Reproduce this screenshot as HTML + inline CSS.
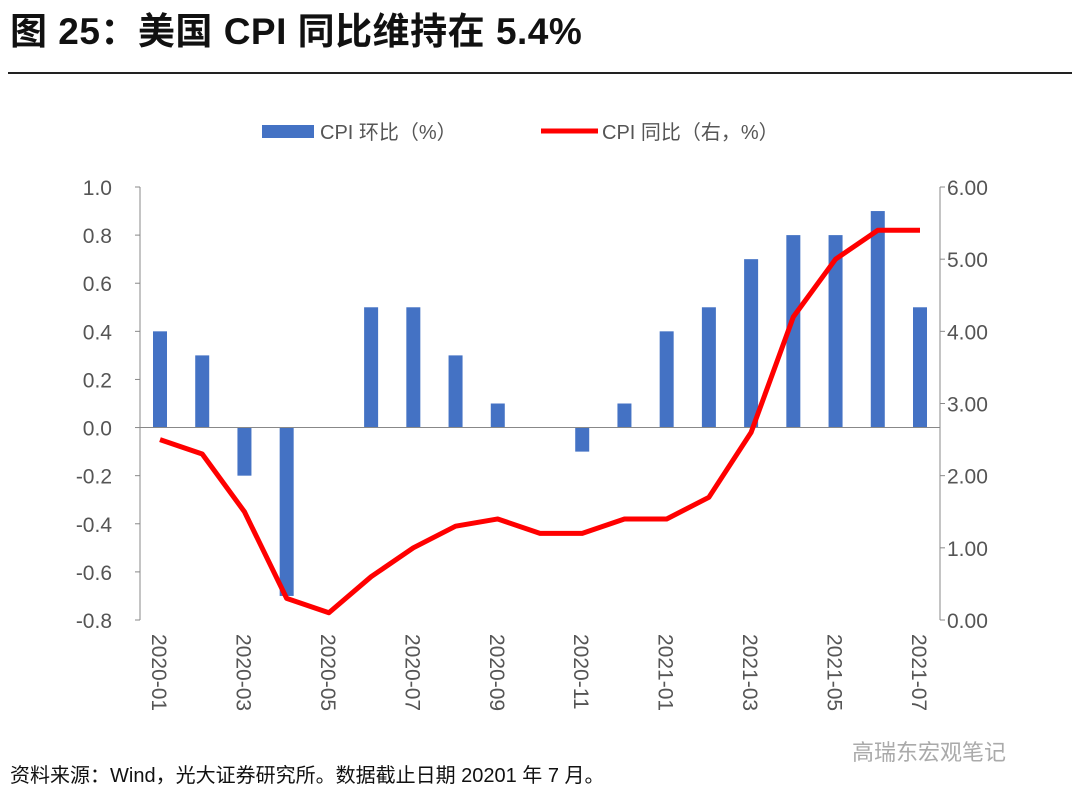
<!DOCTYPE html>
<html><head><meta charset="utf-8"><style>
body{margin:0;background:#fff;width:1080px;height:801px;overflow:hidden;font-family:"Liberation Sans","Noto Sans CJK SC",sans-serif;}
</style></head><body>
<svg width="1080" height="801" xmlns="http://www.w3.org/2000/svg" font-family="Liberation Sans, Noto Sans CJK SC, sans-serif">
<text x="10" y="44" font-size="37" font-weight="bold" fill="#111" letter-spacing="0.5">图 25：美国 CPI 同比维持在 5.4%</text>
<line x1="8" y1="73" x2="1072" y2="73" stroke="#222" stroke-width="2"/>
<g>
<rect x="262" y="125" width="52" height="13" fill="#4472C4"/>
<text x="320" y="139" font-size="20" fill="#555">CPI 环比（%）</text>
<line x1="541" y1="131" x2="598" y2="131" stroke="#FF0000" stroke-width="5"/>
<text x="602" y="139" font-size="20" fill="#555">CPI 同比（右，%）</text>
</g>
<g id="chart"></g>
<text x="10" y="782" font-size="20" fill="#111">资料来源：Wind，光大证券研究所。数据截止日期 20201 年 7 月。</text>
<text x="852" y="760" font-size="22" fill="#aaa">高瑞东宏观笔记</text>
</svg>
<script>
const categories=["2020-01","2020-02","2020-03","2020-04","2020-05","2020-06","2020-07","2020-08","2020-09","2020-10","2020-11","2020-12","2021-01","2021-02","2021-03","2021-04","2021-05","2021-06","2021-07"];
const momValues=[0.4,0.3,-0.2,-0.7,0,0.5,0.5,0.3,0.1,0,-0.1,0.1,0.4,0.5,0.7,0.8,0.8,0.9,0.5];
const yoyValues=[2.5,2.3,1.5,0.3,0.1,0.6,1.0,1.3,1.4,1.2,1.2,1.4,1.4,1.7,2.6,4.2,5.0,5.4,5.4];
const leftTicks=[1.0,0.8,0.6,0.4,0.2,0.0,-0.2,-0.4,-0.6,-0.8];
const rightTicks=[6,5,4,3,2,1,0];
const NS="http://www.w3.org/2000/svg";
const g=document.getElementById('chart');
const X0=160,X1=920,L=140,R=940,T=187,B=620;
const xs=i=>X0+i*(X1-X0)/(categories.length-1);
const yl=v=>T+(1.0-v)/1.8*(B-T);
const yr=v=>B-v/6*(B-T);
function mk(t,a){const e=document.createElementNS(NS,t);for(const k in a)e.setAttribute(k,a[k]);g.appendChild(e);return e;}
momValues.forEach((v,i)=>{if(v===0)return;const y0=yl(0),y1=yl(v);
const r=mk('rect',{x:xs(i)-7,y:Math.min(y0,y1),width:14,height:Math.abs(y1-y0),fill:'#4472C4'});

});
let a=mk('line',{x1:L,y1:T,x2:L,y2:B,stroke:'#888','stroke-width':1});


a=mk('line',{x1:R,y1:T,x2:R,y2:B,stroke:'#888','stroke-width':1});


a=mk('line',{x1:L,y1:yl(0),x2:R,y2:yl(0),stroke:'#888','stroke-width':1});


leftTicks.forEach(v=>{const t=mk('text',{x:112,y:yl(v)+8,'font-size':21,fill:'#555','text-anchor':'end'});t.textContent=v.toFixed(1);


const tk=mk('line',{x1:L-5,y1:yl(v),x2:L,y2:yl(v),stroke:'#888'});

});
rightTicks.forEach(v=>{const t=mk('text',{x:947,y:yr(v)+8,'font-size':21,fill:'#555'});t.textContent=v.toFixed(2);


const tk=mk('line',{x1:R,y1:yr(v),x2:R+5,y2:yr(v),stroke:'#888'});

});
categories.forEach((c,i)=>{if(i%2)return;const x=xs(i);
const t=mk('text',{x:0,y:0,'font-size':21,fill:'#555',transform:`translate(${x-8},634) rotate(90)`});t.textContent=c;

});
const p=mk('polyline',{points:yoyValues.map((v,i)=>xs(i)+','+yr(v)).join(' '),fill:'none',stroke:'#FF0000','stroke-width':5,'stroke-linejoin':'round'});


</script>
</body></html>
